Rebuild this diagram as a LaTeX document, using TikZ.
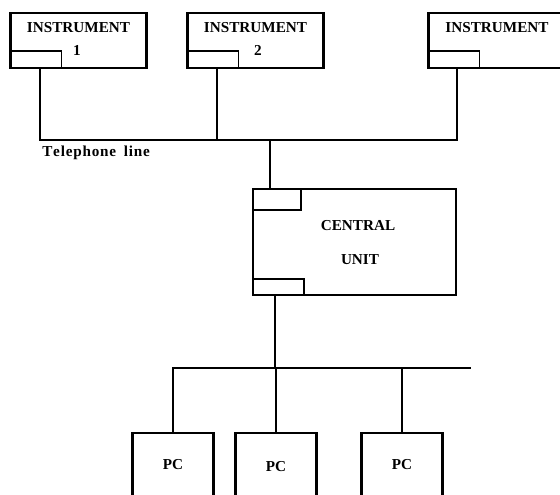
\documentclass[tikz,border=0pt]{standalone}
\usepackage{fontspec}
\setmainfont{Liberation Serif}
\usetikzlibrary{positioning}

\begin{document}
\begin{tikzpicture}[x=0.75pt, y=-0.75pt,
    font=\fontsize{11.4}{13}\selectfont\bfseries,
    instbox/.style={draw, line width=2.2pt, inner sep=0pt, outer sep=0pt,
                    minimum width=102.5pt, minimum height=41.25pt},
    portbox/.style={draw, line width=0.8pt, inner sep=0pt, outer sep=0pt,
                    minimum width=38.25pt, minimum height=12.75pt},
    cubox/.style={draw, line width=1pt, inner sep=0pt, outer sep=0pt,
                  minimum width=152.25pt, minimum height=79.5pt},
    pcbox/.style={draw, line width=1.8pt, inner sep=0pt, outer sep=0pt,
                  minimum width=60.75pt, minimum height=60pt, anchor=north},
    tel/.style={line width=0.8pt},
    lan/.style={line width=1.6pt}]
  \useasboundingbox (0,0) rectangle (560,495);
  \clip (0,0) rectangle (560,495);

  \foreach \n/\x in {1/78.5, 2/255.5, 3/497}{%
    \node[instbox] (ins\n) at (\x,40.5) {};
    \node[portbox, anchor=south west] (port\n) at (ins\n.south west) {};
    \node (inslab\n) at (\x,28) {INSTRUMENT};}
  \node (num1) at (77,50) {1};
  \node (num2) at (258,50) {2};

  \coordinate (t1) at (40,140);
  \coordinate (t2) at (217,140);
  \coordinate (t3) at (457,140);
  \coordinate (tc) at (270,140);
  \draw[tel] (ins1.south -| t1) -- (t1) -- (t3) -- (ins3.south -| t3);
  \draw[tel] (ins2.south -| t2) -- (t2);
  \node[anchor=west, inner sep=0pt] (tellab) at (42,153)
    {T\kern0.6pt e\kern0.6pt l\kern0.6pt e\kern0.6pt p\kern0.6pt h\kern0.6pt o\kern0.6pt n\kern0.6pt e\ \ l\kern0.6pt i\kern0.6pt n\kern0.6pt e};

  \node[cubox] (cu) at (354.5,242) {};
  \node[portbox, anchor=north west, minimum width=36pt, minimum height=15.75pt]
    (cutop) at (cu.north west) {};
  \node[portbox, anchor=south west, minimum height=12pt]
    (cubot) at (cu.south west) {};
  \node (culab1) at (358,226) {CENTRAL};
  \node (culab2) at (360,260) {UNIT};
  \draw[tel] (tc) -- (cutop.north -| tc);

  \coordinate (lc) at (275,368);
  \coordinate (l1) at (172,368);
  \coordinate (lend) at (471,368);
  \draw[lan] (cubot.south -| lc) -- (lc);
  \draw[lan] (l1) -- (lend);
  \foreach \n/\x/\y in {1/173/465, 2/276/467, 3/402/465}{%
    \node[pcbox] (pc\n) at (\x,433) {};
    \node (pclab\n) at (\x,\y) {PC};
    \draw[lan] (pc\n.north) -- (pc\n.north |- lc);}
\end{tikzpicture}
\end{document}
